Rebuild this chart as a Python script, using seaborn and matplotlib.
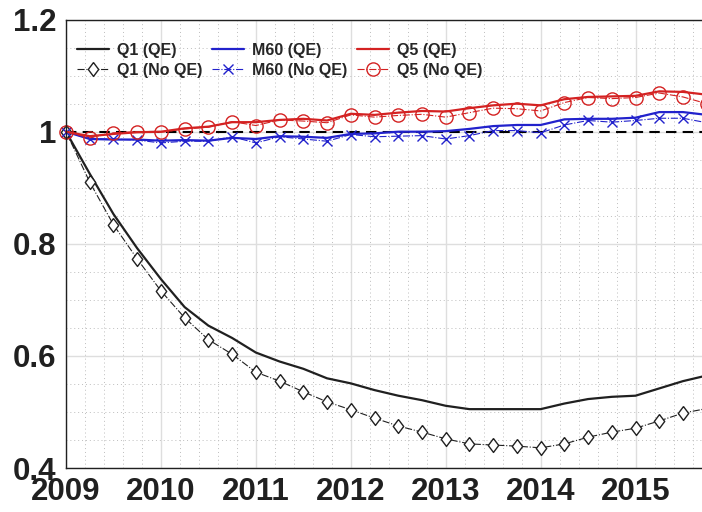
import numpy as np
import pandas as pd
import matplotlib
matplotlib.use("Agg")
import matplotlib.pyplot as plt
import seaborn as sns
from matplotlib.ticker import MultipleLocator, FixedLocator

# ---------------- data (quarterly, 2009Q1 .. 2015Q4) ----------------
dates = [2009 + 0.25 * i for i in range(28)]

q1_qe = [1.000, 0.925, 0.853, 0.792, 0.737, 0.687, 0.654, 0.632, 0.606, 0.590,
         0.577, 0.560, 0.551, 0.539, 0.529, 0.521, 0.511, 0.505, 0.505, 0.505,
         0.505, 0.515, 0.523, 0.527, 0.529, 0.542, 0.555, 0.565]
q1_noqe = [1.000, 0.910, 0.834, 0.773, 0.716, 0.668, 0.629, 0.603, 0.571, 0.555,
           0.536, 0.518, 0.504, 0.489, 0.475, 0.464, 0.452, 0.443, 0.441, 0.439,
           0.436, 0.443, 0.455, 0.464, 0.471, 0.484, 0.498, 0.506]
m60_qe = [1.000, 0.987, 0.986, 0.986, 0.984, 0.985, 0.984, 0.989, 0.987, 0.992,
          0.991, 0.989, 0.996, 0.997, 1.000, 1.000, 1.001, 1.005, 1.010, 1.012,
          1.012, 1.022, 1.023, 1.023, 1.025, 1.035, 1.035, 1.030]
m60_noqe = [1.000, 0.987, 0.987, 0.985, 0.980, 0.983, 0.983, 0.991, 0.980, 0.991,
            0.987, 0.983, 0.995, 0.991, 0.992, 0.993, 0.987, 0.993, 1.002, 1.002,
            0.998, 1.012, 1.020, 1.017, 1.020, 1.024, 1.024, 1.016]
q5_qe = [1.000, 0.992, 0.996, 0.999, 1.000, 1.006, 1.009, 1.017, 1.017, 1.021,
         1.023, 1.020, 1.032, 1.030, 1.034, 1.037, 1.036, 1.042, 1.047, 1.050,
         1.047, 1.058, 1.062, 1.063, 1.064, 1.072, 1.071, 1.066]
q5_noqe = [1.000, 0.989, 0.998, 1.000, 0.999, 1.005, 1.008, 1.018, 1.011, 1.021,
           1.019, 1.016, 1.030, 1.026, 1.029, 1.031, 1.026, 1.034, 1.042, 1.041,
           1.037, 1.052, 1.061, 1.059, 1.061, 1.069, 1.062, 1.050]

baseline = 1.0
x_ticks = [2009, 2010, 2011, 2012, 2013, 2014, 2015]
x_tick_labels = ["2009", "2010", "2011", "2012", "2013", "2014", "2015"]
y_ticks = [0.4, 0.6, 0.8, 1.0, 1.2]
y_tick_labels = ["0.4", "0.6", "0.8", "1", "1.2"]

series_names = ["Q1 (QE)", "Q1 (No QE)", "M60 (QE)", "M60 (No QE)", "Q5 (QE)", "Q5 (No QE)"]
series_values = [q1_qe, q1_noqe, m60_qe, m60_noqe, q5_qe, q5_noqe]

df = pd.DataFrame({
    "date": np.tile(dates, len(series_names)),
    "value": np.concatenate(series_values),
    "series": np.repeat(series_names, len(dates)),
})

# ---------------- style ----------------
sns.set_style("white")
plt.rcParams["font.family"] = ["Liberation Sans", "DejaVu Sans"]
plt.rcParams["font.weight"] = "bold"

BLACK = "#202020"
BLUE = "#2222cc"
RED = "#d42222"

diamond = [(0, 1), (0.75, 0), (0, -1), (-0.75, 0), (0, 1)]

styles = {
    "Q1 (QE)":     dict(color=BLACK, linestyle="-",  linewidth=1.6, marker=None),
    "Q1 (No QE)":  dict(color=BLACK, linestyle="-.", linewidth=0.8, marker=diamond, markersize=10,
                        markerfacecolor="white", markeredgecolor=BLACK, markeredgewidth=1.0),
    "M60 (QE)":    dict(color=BLUE, linestyle="-",  linewidth=1.6, marker=None),
    "M60 (No QE)": dict(color=BLUE, linestyle="-.", linewidth=0.8, marker="x", markersize=7,
                        markeredgecolor=BLUE, markeredgewidth=1.0),
    "Q5 (QE)":     dict(color=RED, linestyle="-",  linewidth=1.6, marker=None),
    "Q5 (No QE)":  dict(color=RED, linestyle="-.", linewidth=0.8, marker="o", markersize=9.5,
                        markerfacecolor="none", markeredgecolor=RED, markeredgewidth=1.0),
}

fig = plt.figure(figsize=(7.02, 5.12), dpi=100)
ax = fig.add_axes([66 / 702, 1 - 468 / 512, 1 - 66 / 702, (468 - 19.6) / 512])

# grids
ax.xaxis.set_major_locator(FixedLocator(x_ticks))
ax.xaxis.set_minor_locator(MultipleLocator(0.2))
ax.yaxis.set_major_locator(FixedLocator(y_ticks))
ax.yaxis.set_minor_locator(MultipleLocator(0.05))
ax.grid(which="major", color="#dedede", linewidth=1.0, linestyle="-", zorder=0)
ax.grid(which="minor", color="#bdbdbd", linewidth=0.7, linestyle=(0, (1, 3)), zorder=0)
ax.set_axisbelow(True)

ax.axhline(baseline, color="black", linewidth=1.5, linestyle=(0, (5, 3)), zorder=1)

for name in series_names:
    sub = df[df["series"] == name]
    st = dict(styles[name])
    sns.lineplot(data=sub, x="date", y="value", ax=ax, label=name,
                 estimator=None, sort=False, zorder=3, **st)

for ln in ax.get_lines()[1:]:
    ln.set_clip_on(False)

ax.set_xlim(2009, 2015.70)
ax.set_ylim(0.4, 1.2)
ax.set_xticklabels(x_tick_labels)
ax.set_yticklabels(y_tick_labels)
ax.set_xlabel("")
ax.set_ylabel("")

ax.tick_params(axis="both", which="major", direction="in", length=7, width=1,
               labelsize=22.5, colors=BLACK)
ax.tick_params(axis="x", which="major", pad=6.5)
ax.tick_params(axis="y", which="major", pad=7)
ax.tick_params(axis="both", which="minor", length=0)
for lab in ax.get_xticklabels() + ax.get_yticklabels():
    lab.set_fontweight("bold")

for side in ["left", "bottom", "top"]:
    ax.spines[side].set_visible(True)
    ax.spines[side].set_color(BLACK)
    ax.spines[side].set_linewidth(1.0)
    ax.spines[side].set_zorder(5)
ax.spines["right"].set_visible(False)

handles, labels = ax.get_legend_handles_labels()
leg = ax.legend(handles, labels, ncol=3, loc="upper left",
                bbox_to_anchor=(0.018, 0.948), frameon=False,
                prop={"size": 11.5, "weight": "bold"},
                handlelength=2.0, handletextpad=0.5, columnspacing=0.6,
                labelspacing=0.3, borderpad=0, borderaxespad=0)

fig.savefig("out.png", dpi=100)
